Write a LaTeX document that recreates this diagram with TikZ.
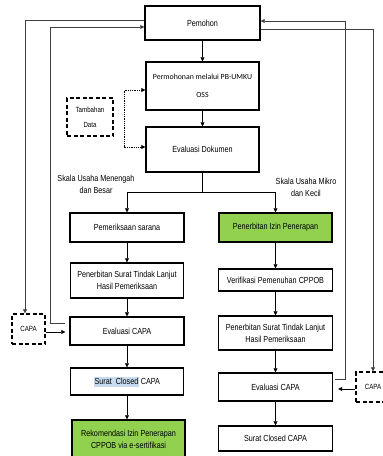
\documentclass[tikz,border=0pt]{standalone}
\usepackage{fontspec}
\setmainfont{Liberation Sans}[FakeStretch=0.82]
\newfontfamily\calfont{Carlito}
\usetikzlibrary{arrows.meta}
\definecolor{grn}{HTML}{92D050}
\definecolor{hl}{HTML}{C6DBF0}
\begin{document}
\begin{tikzpicture}[x=1pt,y=-1pt,
  box/.style={draw=black,line width=1.4pt,inner sep=0pt,align=center,
    font=\fontsize{8.8}{12}\selectfont},
  dbox/.style={draw=black,line width=1.3pt,dash pattern=on 4pt off 2.5pt,inner sep=0pt,
    align=center,font=\fontsize{7.5}{15}\selectfont},
  lbl/.style={align=center,inner sep=0pt,font=\fontsize{8.8}{12}\selectfont},
  arr/.style={draw=black,line width=0.7pt,-{Triangle[length=4pt,width=4pt]}},
  ln/.style={draw=black!75,line width=0.7pt},
  dotl/.style={draw=black,line width=0.8pt,densely dotted}
]
\useasboundingbox (0,0) rectangle (383,456);

% main column
\node[box,minimum width=115,minimum height=34] (pem) at (202.5,23) {Pemohon};
\node[box,minimum width=113,minimum height=48,font=\calfont\fontsize{7.8}{18}\selectfont] (perm) at (202.5,86) {Permohonan melalui PB-UMKU\\OSS};
\node[box,minimum width=113,minimum height=45] (evd) at (202.5,149.5) {Evaluasi Dokumen};
\node[dbox,minimum width=46,minimum height=38] (tamb) at (90,117) {Tambahan\\Data};

% labels
\node[lbl] (lblL) at (96,184) {Skala Usaha Menengah\\dan Besar};
\node[lbl] (lblR) at (306,187) {Skala Usaha Mikro\\dan Kecil};

% left column
\node[box,minimum width=114,minimum height=29] (sar) at (127,227.5) {Pemeriksaan sarana};
\node[box,minimum width=113,minimum height=35] (tlL) at (127,280.5) {Penerbitan Surat Tindak Lanjut\\Hasil Pemeriksaan};
\node[box,minimum width=114,minimum height=28] (evL) at (127,331) {Evaluasi CAPA};
\node[box,minimum width=113,minimum height=27] (clL) at (127,381.5) {{\fboxsep=0.5pt\colorbox{hl}{\rule[-2pt]{0pt}{9pt}Surat\ \ Closed}} CAPA};
\node[box,fill=grn,minimum width=113,minimum height=38] (rek) at (128.5,439) {Rekomendasi Izin Penerapan\\CPPOB via e-sertifikasi};

% right column
\node[box,fill=grn,minimum width=113,minimum height=29] (izin) at (275.5,227.5) {Penerbitan Izin Penerapan};
\node[box,minimum width=114,minimum height=22] (ver) at (275.5,280) {Verifikasi Pemenuhan CPPOB};
\node[box,minimum width=114,minimum height=34] (tlR) at (275.5,333) {Penerbitan Surat Tindak Lanjut\\Hasil Pemeriksaan};
\node[box,minimum width=114,minimum height=28] (evR) at (275.5,387) {Evaluasi CAPA};
\node[box,minimum width=114,minimum height=25] (clR) at (275.5,438.5) {Surat Closed CAPA};

% CAPA dashed boxes
\node[dbox,minimum width=33,minimum height=30] (capL) at (28.5,329) {CAPA};
\node[dbox,minimum width=34,minimum height=30] (capR) at (373,387) {CAPA};

% main arrows
\draw[arr] (pem) -- (perm);
\draw[arr] (perm) -- (evd);
\coordinate (j) at (202.5,192);
\draw[arr,-] (evd.south) -- (j);
\draw[arr] (j) -| (sar.north);
\draw[arr] (j) -| (izin.north);

% dotted from Tambahan Data area
\coordinate (d1) at (124,90);
\coordinate (d2) at (124,147);
\draw[dotl,{Triangle[length=4pt,width=4pt]}-{Triangle[length=4pt,width=4pt]}] (d1 -| perm.west) -- (d1) -- (d2) -- (d2 -| evd.west);

% left column arrows
\draw[arr] (sar) -- (tlL);
\draw[arr] (tlL) -- (evL);
\draw[arr] (evL) -- (clL);
\draw[arr] (clL.south) -- (clL.south |- rek.north);

% right column arrows
\draw[arr] (izin) -- (ver);
\draw[arr] (ver) -- (tlR);
\draw[arr] (tlR) -- (evR);
\draw[arr] (evR) -- (clR);

% left outer loops
\coordinate (a1) at (25,20);
\draw[ln,-{Triangle[length=4pt,width=4pt]}] (pem.west |- a1) -- (a1) -- (a1 |- capL.north);
\coordinate (b1) at (50,27);
\coordinate (b2) at (50,323);
\draw[ln,-{Triangle[length=4pt,width=4pt]},shorten <=4pt] (evL.west |- b2) -- (b2) -- (b1) -- (pem.west |- b1);
\coordinate (ycl) at (0,332);
\draw[arr,shorten >=4pt] (capL.east |- ycl) -- (evL.west |- ycl);

% right outer loops
\coordinate (r1) at (345,21);
\coordinate (r2) at (345,379);
\draw[ln,-{Triangle[length=4pt,width=4pt]},shorten <=2pt] (evR.east |- r2) -- (r2) -- (r1) -- (pem.east |- r1);
\coordinate (s1) at (373,29);
\draw[ln,-{Triangle[length=4pt,width=4pt]}] (pem.east |- s1) -- (s1) -- (s1 |- capR.north);
\coordinate (ycr) at (0,389);
\draw[arr,shorten >=5pt] (capR.west |- ycr) -- (evR.east |- ycr);
\end{tikzpicture}
\end{document}
